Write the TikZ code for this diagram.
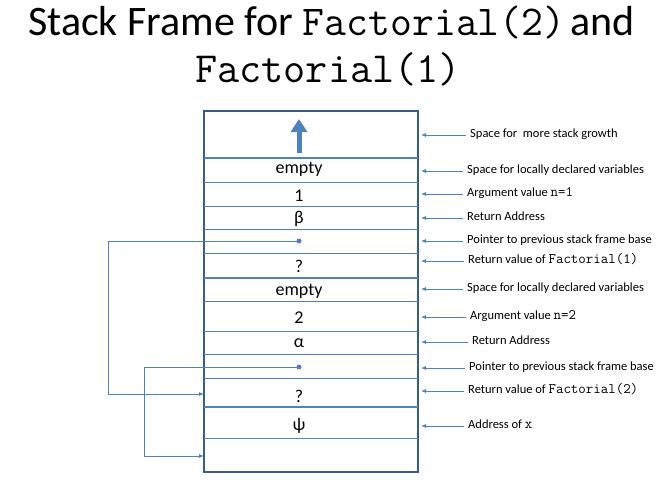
\documentclass[tikz,border=0pt]{standalone}
\usepackage{fontspec}
\setmainfont{Carlito}
\usetikzlibrary{arrows.meta}
\definecolor{frameblue}{HTML}{385D8A}
\definecolor{lineblue}{HTML}{4F81BD}
\newcommand{\mymono}[1]{{\fontsize{14.5}{15}\selectfont\ttfamily #1}}
\begin{document}
\begin{tikzpicture}[x=1pt,y=-1pt,
  framestyle/.style={draw=frameblue,line width=2.5pt},
  thickrule/.style={draw=lineblue,line width=2.5pt},
  thinrule/.style={draw=lineblue,line width=0.8pt},
  cell/.style={anchor=base,inner sep=0pt,font=\fontsize{18}{20}\selectfont},
  dotn/.style={circle,fill=lineblue,inner sep=0pt,minimum size=5pt},
  conn/.style={draw=lineblue,line width=0.8pt,-{Latex[length=5pt,width=4pt]}},
  lab/.style={anchor=west,inner sep=0pt,text height=7pt,text depth=3pt,font=\fontsize{12.5}{14}\selectfont},
  labarrow/.style={draw=lineblue,line width=0.8pt,-{Latex[length=5pt,width=4pt]},shorten <=4pt},
  title/.style={anchor=base west,inner sep=0pt}
]
\useasboundingbox (0,0) rectangle (672,487);

% title
\node[title] (t1) at (28,36) {\fontsize{42}{46}\selectfont Stack Frame for {\fontsize{42.5}{46}\selectfont\ttfamily Factorial(2)}\hspace{5pt}and};
\node[title] (t2) at (195,82) {\fontsize{43}{46}\selectfont\ttfamily Factorial(1)};

% stack box
\draw[framestyle] (204,111) rectangle (418,472);
\foreach \yy in {158,278,407} \draw[thickrule] (204,\yy) -- (418,\yy);
\foreach \yy in {182,206,229,253,301,331,354,378,438} \draw[thinrule] (204,\yy) -- (418,\yy);

% growth arrow
\coordinate (g0) at (299,153);
\coordinate (g1) at (299,119);
\draw[lineblue,line width=5pt,-{Triangle[length=13pt,width=16pt]}] (g0) -- (g1);

% cell texts
\node[cell] (e1) at (299,173) {empty};
\node[cell] (n1) at (299,201) {1};
\node[cell] (beta) at (299,223) {β};
\node[dotn] (p1) at (299,241) {};
\node[cell] (q1) at (299,272) {?};
\node[cell] (e2) at (299,295) {empty};
\node[cell] (n2) at (299,323) {2};
\node[cell] (alpha) at (299,347) {α};
\node[dotn] (p2) at (299,367) {};
\node[cell] (q2) at (299,402) {?};
\node[cell] (psi) at (299,430) {ψ};

% pointer connectors
\coordinate (c1a) at (108,241);
\coordinate (c1b) at (108,394);
\coordinate (d1) at (204,394);
\draw[conn] (p1.center) -- (c1a) -- (c1b) -- (d1);
\coordinate (c2a) at (144,367);
\coordinate (c2b) at (144,456);
\coordinate (d2) at (204,456);
\draw[conn] (p2.center) -- (c2a) -- (c2b) -- (d2);

% right labels
\coordinate (edge) at (421,0);
\node[lab] (l1) at (470,135) {Space for\ \ more stack growth};
\node[lab] (l2) at (467,171) {Space for locally declared variables};
\node[lab] (l3) at (467,194) {Argument value \mymono{n=1}};
\node[lab] (l4) at (467,218) {Return Address};
\node[lab] (l5) at (467,241) {Pointer to previous stack frame base};
\node[lab] (l6) at (468,261) {Return value of \mymono{Factorial(1)}};
\node[lab] (l7) at (467,289) {Space for locally declared variables};
\node[lab] (l8) at (470,317) {Argument value \mymono{n=2}};
\node[lab] (l9) at (472,342) {Return Address};
\node[lab] (l10) at (469,368) {Pointer to previous stack frame base};
\node[lab] (l11) at (468,391) {Return value of \mymono{Factorial(2)}};
\node[lab] (l12) at (468,426) {Address of \mymono{x}};
\foreach \n in {1,...,12} \draw[labarrow] (l\n.west) -- (l\n.west -| edge);
\end{tikzpicture}
\end{document}
